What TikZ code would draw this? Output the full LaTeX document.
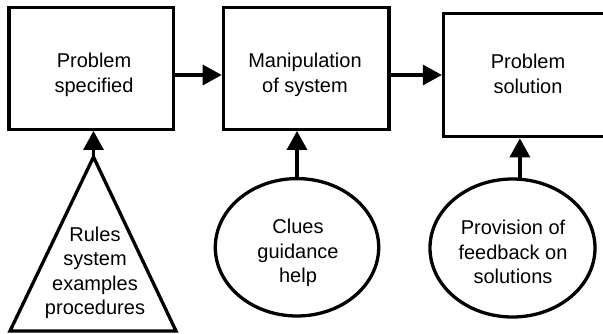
\documentclass[tikz,border=0pt]{standalone}
\usepackage{fontspec}
\setmainfont{Liberation Sans}
\usetikzlibrary{shapes.geometric,arrows.meta}
\begin{document}
\begin{tikzpicture}[x=1pt,y=-1pt,line width=3.3pt,
  box/.style={draw, rectangle, inner sep=0pt},
  oval/.style={draw, ellipse, inner sep=0pt},
  lbl/.style={align=center, inner sep=0pt, font=\fontsize{20}{24.5}\selectfont},
  flow/.style={-{Triangle[length=19pt,width=20pt]}}
]
\useasboundingbox (0,0) rectangle (603,334);
\clip (0,0) rectangle (603,334);

% the three stages
\node[box, minimum width=164.3pt, minimum height=121.6pt] (p1) at (91.2,68.5) {};
\node[box, minimum width=165.7pt, minimum height=121.6pt] (p2) at (306.2,68.5) {};
\node[box, minimum width=165pt, minimum height=123.4pt] (p3) at (526,75) {};
\node[lbl] (t1) at (94,75) {Problem\\specified};
\node[lbl] (t2) at (305,75) {Manipulation\\of system};
\node[lbl] (t3) at (528,74) {Problem\\solution};

% supporting inputs
\coordinate (apex) at (93.5,157);
\draw[line join=miter] (apex) -- (10,331) -- (176,331) -- cycle;
\node[lbl] (t4) at (95,273) {Rules\\system\\examples\\procedures};

\node[oval, minimum width=163.4pt, minimum height=137.4pt] (e1) at (297,247.3) {};
\node[lbl] (t5) at (298,253) {Clues\\guidance\\help};
\node[oval, minimum width=165pt, minimum height=138pt] (e2) at (512.5,248) {};
\node[lbl] (t6) at (513,252) {Provision of\\feedback on\\solutions};

% connectors
\draw[flow] (p1.east |- p3.west) -- (p2.west |- p3.west);
\draw[flow] (p2.east |- p3.west) -- (p3.west);
\draw[flow] (apex) -- (apex |- p1.south);
\draw[flow] (e1.north) -- (e1.north |- p2.south);
\draw[flow] (e2.84.6) -- (e2.84.6 |- p3.south);
\end{tikzpicture}
\end{document}
